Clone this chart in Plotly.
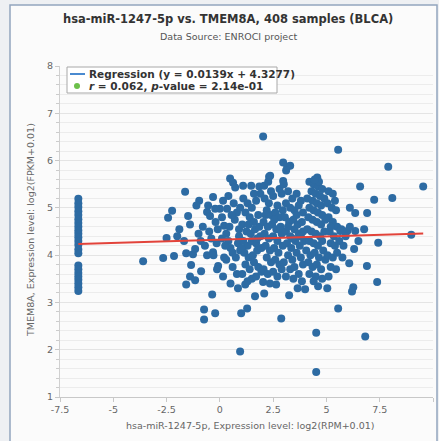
import plotly.graph_objects as go

# ---- data ----
col_x = -6.64
col_y = [5.19, 5.1, 5.02, 4.93, 4.85, 4.76, 4.68, 4.6, 4.52, 4.45, 4.38, 4.3, 4.22,
         4.12, 4.04, 3.78, 3.7, 3.62, 3.55, 3.48, 3.4, 3.32, 3.24]

cloud = [
    (-3.6,3.87),(-2.66,3.94),(-2.15,3.98),(-2.5,4.36),(-2.0,4.4),(-1.68,4.3),(-1.58,4.04),(-1.26,4.02),
    (-1.16,4.13),(-1.63,5.34),(-2.24,4.94),(-2.43,4.79),(-1.49,4.83),(-1.4,4.65),(-1.9,4.55),(-1.58,3.38),
    (-1.4,3.55),(-1.16,3.47),(-1.35,3.79),(-0.88,3.66),(-0.36,3.17),(-0.74,2.85),(-0.74,2.64),(-0.22,2.77),
    (-0.97,5.15),(-0.32,5.23),(-0.6,4.91),(-0.46,4.83),(-1.0,4.45),(-0.9,4.3),(-0.8,4.6),(-0.7,4.2),
    (-0.6,4.0),(-0.5,4.5),(-0.4,4.35),(-0.32,4.06),(-0.3,4.0),(-0.08,3.77),(-0.13,3.7),(0.15,3.55),
    (-0.2,4.7),(-0.1,4.55),(-0.15,4.25),(-1.1,5.05),(-0.55,5.05),
    (0.0,4.98),(0.34,4.98),(-0.22,4.98),(0.48,5.62),(0.62,5.53),(0.72,5.43),(0.1,4.8),(0.2,4.62),
    (0.3,4.45),(0.4,4.3),(0.5,4.15),(0.6,4.05),(0.1,4.35),(0.25,4.2),(0.7,4.75),(0.8,4.9),(0.9,4.55),
    (0.55,4.85),(0.45,4.6),(0.85,4.25),(0.95,4.1),(0.3,3.9),(0.6,3.75),(0.8,3.6),(0.95,1.96),(0.5,3.4),
    (0.2,3.95),(0.75,3.95),(0.9,4.4),(0.15,5.15),(0.65,5.1),(0.4,5.25),(0.95,5.0),(0.85,3.3),
    (1.0,2.77),(1.28,2.87),(1.19,3.38),(1.65,3.13),(1.09,5.47),(1.47,5.47),(1.1,5.2),(1.3,5.1),(1.5,5.0),
    (1.7,5.15),(1.9,5.3),(1.2,4.9),(1.4,4.8),(1.6,4.7),(1.8,4.85),(1.05,4.65),(1.25,4.5),(1.45,4.45),
    (1.65,4.55),(1.85,4.6),(1.1,4.3),(1.3,4.2),(1.5,4.3),(1.7,4.25),(1.9,4.4),(1.15,4.05),(1.35,3.95),
    (1.55,4.0),(1.75,4.1),(1.95,4.15),(1.2,3.8),(1.4,3.7),(1.6,3.85),(1.8,3.75),(1.05,3.6),(1.5,3.5),
    (1.7,3.55),(1.95,3.65),(1.3,3.45),(1.6,5.3),(1.85,5.45),(1.35,4.65),(1.75,4.35),(1.0,4.15),
    (2.03,6.51),(2.08,5.47),(2.27,5.55),(2.31,5.66),(2.36,5.68),(2.97,5.96),(2.97,5.57),(2.1,5.2),
    (2.3,5.1),(2.5,5.25),(2.7,5.05),(2.9,5.3),(2.2,4.95),(2.4,4.85),(2.6,4.9),(2.8,4.8),(2.05,4.7),
    (2.25,4.6),(2.45,4.65),(2.65,4.55),(2.85,4.6),(2.1,4.45),(2.3,4.35),(2.5,4.4),(2.7,4.3),(2.9,4.45),
    (2.15,4.2),(2.35,4.1),(2.55,4.15),(2.75,4.05),(2.95,4.2),(2.2,3.95),(2.4,3.85),(2.6,3.9),(2.8,3.8),
    (2.05,3.7),(2.25,3.6),(2.5,3.65),(2.7,3.55),(2.9,3.7),(2.08,3.19),(2.03,3.43),(2.64,3.38),(2.88,2.66),
    (2.4,5.35),(2.8,5.4),(2.55,4.75),(2.15,4.85),(2.95,4.95),(2.35,3.4),
    (3.16,5.87),(3.3,5.89),(3.11,5.79),(3.0,5.5),(3.2,5.35),(3.4,5.2),(3.6,5.3),(3.8,5.15),(3.1,5.1),
    (3.3,5.0),(3.5,4.95),(3.7,5.05),(3.9,4.9),(3.05,4.8),(3.25,4.7),(3.45,4.75),(3.65,4.65),(3.85,4.7),
    (3.1,4.5),(3.3,4.4),(3.5,4.55),(3.7,4.45),(3.9,4.5),(3.15,4.25),(3.35,4.15),(3.55,4.3),(3.75,4.2),
    (3.95,4.3),(3.2,4.0),(3.4,3.9),(3.6,4.05),(3.8,3.95),(3.0,3.85),(3.3,3.7),(3.5,3.75),(3.7,3.6),
    (3.9,3.8),(3.25,3.15),(3.45,3.5),(3.85,3.45),(4.0,3.28),(3.6,4.85),(3.2,4.6),(3.8,4.4),(3.4,4.35),
    (3.1,3.55),(3.65,3.3),
    (4.57,5.64),(4.2,5.55),(4.4,5.5),(4.6,5.45),(4.8,5.4),(4.3,5.35),(4.5,5.3),(4.7,5.25),(4.1,5.2),
    (4.35,5.15),(4.55,5.1),(4.75,5.05),(4.9,5.2),(4.2,5.0),(4.4,4.95),(4.6,4.9),(4.8,4.85),(4.15,4.8),
    (4.35,4.75),(4.55,4.7),(4.75,4.65),(4.95,4.75),(4.1,4.55),(4.3,4.5),(4.5,4.45),(4.7,4.4),(4.9,4.5),
    (4.2,4.3),(4.4,4.25),(4.6,4.2),(4.8,4.3),(4.05,4.1),(4.25,4.0),(4.45,4.05),(4.65,3.95),(4.85,4.1),
    (4.15,3.85),(4.35,3.75),(4.55,3.8),(4.75,3.7),(4.95,3.9),(4.2,3.6),(4.5,3.55),(4.8,3.5),(4.61,3.34),
    (4.52,2.36),(4.52,1.53),(4.4,3.45),(4.65,5.55),(4.45,5.6),
    (5.55,6.23),(5.04,3.3),(5.55,2.87),(5.1,5.35),(5.3,5.3),(5.05,5.1),(5.25,5.0),(5.45,4.95),(5.1,4.8),
    (5.3,4.7),(5.5,4.6),(5.7,4.55),(5.15,4.5),(5.35,4.4),(5.65,4.51),(5.98,4.51),(5.2,4.25),(5.4,4.2),
    (5.6,4.3),(5.8,4.2),(5.05,4.0),(5.3,3.95),(5.5,4.05),(5.75,3.95),(5.2,3.75),(5.45,3.7),(5.1,3.55),
    (5.9,4.4),(5.4,5.15),(5.2,4.6),
    (6.35,4.89),(6.91,4.89),(6.35,4.51),(6.77,4.55),(6.3,4.13),(6.07,3.83),(6.9,3.77),(6.26,3.32),
    (6.2,3.23),(6.82,2.28),(6.58,5.45),(7.24,5.17),(7.9,5.87),(8.09,5.21),(9.54,5.45),(8.98,4.43),
    (7.43,4.26),(7.38,3.43),(6.1,4.6),(6.5,4.3),(6.1,5.0),
]

mir_expr = [col_x] * len(col_y) + [p[0] for p in cloud]
gene_expr = list(col_y) + [p[1] for p in cloud]

slope = 0.0139
intercept = 4.3277
r_value = 0.062
p_value = "2.14e-01"

x_ticks = [-7.5, -5, -2.5, 0, 2.5, 5, 7.5, 10]
x_tick_labels = ["-7.5", "-5", "-2.5", "0", "2.5", "5", "7.5", "10"]
y_ticks = [1, 2, 3, 4, 5, 6, 7, 8]

title = "hsa-miR-1247-5p vs. TMEM8A, 408 samples (BLCA)"
subtitle = "Data Source: ENROCI project"
x_title = "hsa-miR-1247-5p, Expression level: log2(RPM+0.01)"
y_title = "TMEM8A, Expression level: log2(FPKM+0.01)"
legend_reg = f"Regression (y = {slope}x + {intercept})"
legend_r = f"<i>r</i> = {r_value}, <i>p</i>-value = {p_value}"

# ---- figure ----
FONT = "DejaVu Sans"
fig = go.Figure()

fig.add_trace(go.Scatter(
    x=mir_expr, y=gene_expr, mode="markers",
    marker=dict(color="#2d6ba3", size=8, line=dict(width=0)),
    showlegend=False, hoverinfo="skip"))

xmin, xmax = min(mir_expr), max(mir_expr)
fig.add_trace(go.Scatter(
    x=[xmin, xmax], y=[slope * xmin + intercept, slope * xmax + intercept],
    mode="lines", line=dict(color="#e2433a", width=2), showlegend=False))

W, H = 439, 441
L, R, T, B = 60, 6, 66, 44
pw, ph = W - L - R, H - T - B

def px(xp):
    return (xp - L) / pw

def py(yp):
    return (H - B - yp) / ph

def ann(text, xp, yp, size, color, xanchor="center", angle=0):
    return dict(text=text, xref="paper", yref="paper", x=px(xp), y=py(yp),
                xanchor=xanchor, yanchor="middle", textangle=angle, showarrow=False,
                font=dict(family=FONT, size=size, color=color))

shapes = [
    dict(type="rect", xref="paper", yref="paper",
         x0=px(10), x1=px(437), y0=py(470), y1=py(5),
         fillcolor="#fbfbfb", line=dict(color="#93a5be", width=1.5), layer="below"),
    # legend box
    dict(type="rect", xref="paper", yref="paper",
         x0=px(67), x1=px(277), y0=py(93), y1=py(67),
         fillcolor="#ffffff", line=dict(color="#a8a8a8", width=1), layer="above"),
    dict(type="line", xref="paper", yref="paper",
         x0=px(70), x1=px(85), y0=py(74), y1=py(74),
         line=dict(color="#4a8ad0", width=2), layer="above"),
    dict(type="circle", xref="paper", yref="paper",
         x0=px(74), x1=px(80), y0=py(89), y1=py(83),
         fillcolor="#6cc04a", line=dict(color="#6cc04a", width=0), layer="above"),
]

fig.update_layout(
    width=W, height=H, autosize=False,
    margin=dict(l=L, r=R, t=T, b=B, pad=0),
    paper_bgcolor="#eef0f3", plot_bgcolor="#ffffff",
    font=dict(family=FONT, size=9, color="#666666"),
    showlegend=False,
    xaxis=dict(range=[-7.5, 10], tickvals=x_ticks, ticktext=x_tick_labels,
               showgrid=False, zeroline=False, showline=True, linecolor="#c8c8c8",
               ticks="outside", ticklen=4, tickcolor="#c8c8c8",
               tickfont=dict(family=FONT, size=9.5, color="#666666")),
    yaxis=dict(range=[1, 8], tickvals=y_ticks, showgrid=True, gridcolor="#e4e4e4",
               zeroline=False, showline=True, linecolor="#d0d0d0",
               ticks="outside", ticklen=4, tickcolor="#c8c8c8",
               tickfont=dict(family=FONT, size=9.5, color="#666666"),
               minor=dict(dtick=0.2, showgrid=True, gridcolor="#ececec",
                          ticks="outside", ticklen=3, tickcolor="#cccccc")),
    shapes=shapes,
    annotations=[
        ann(f"<b>{title}</b>", 228, 19, 11.5, "#333333"),
        ann(subtitle, 228, 37, 9.5, "#555555"),
        ann(x_title, 250, 425, 9.5, "#666666"),
        ann(y_title, 30, 230, 9.5, "#666666", angle=-90),
        ann(f"<b>{legend_reg}</b>", 87, 74, 10.5, "#333333", xanchor="left"),
        ann(f"<b>{legend_r}</b>", 87, 86, 10.5, "#333333", xanchor="left"),
    ],
)

fig.write_html("out.html")
